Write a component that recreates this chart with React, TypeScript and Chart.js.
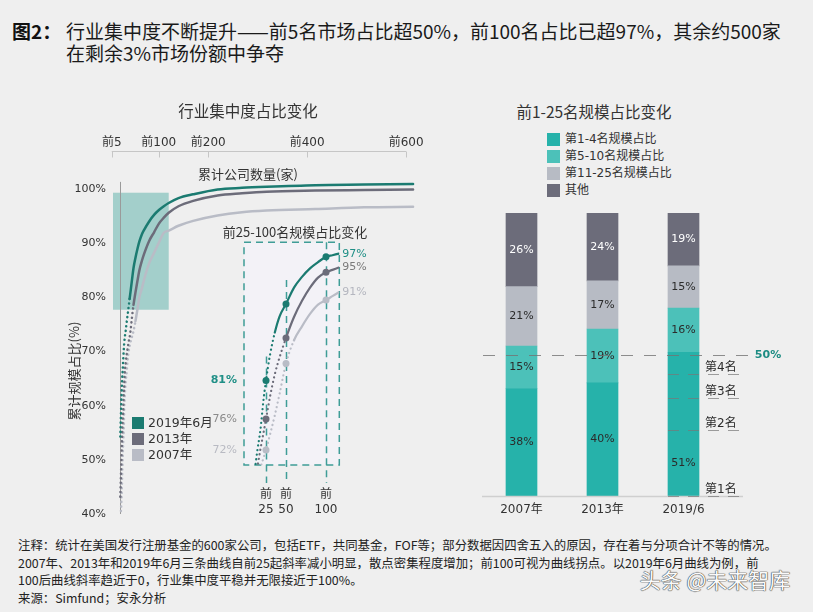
import React, { useEffect, useRef } from 'react';
import { Chart, registerables } from 'chart.js';
Chart.register(...registerables);

const FONT_LATIN = '"DejaVu Sans", "Noto Sans CJK SC", sans-serif';
const FONT_CJK = '"Noto Sans CJK SC", "Noto Sans", sans-serif';

// ---------- main curve chart ----------
const seriesNames = ['2019年6月', '2013年', '2007年'];
const mainRanks = [1, 2, 3, 4, 5, 6, 7, 8, 9, 10, 12, 14, 16, 18, 20, 22, 25, 28, 32, 36, 40, 45, 50, 60, 70, 80, 90, 100, 120, 150, 200, 250, 300, 400, 500, 600];
const main2019 = [54.3, 57.5, 60.6, 63.3, 65.2, 66.8, 68.6, 70.3, 71.5, 72.5, 73.8, 75.4, 76.8, 78.2, 79.7, 81.1, 83.3, 85.4, 87.3, 88.9, 90.3, 91.6, 92.5, 94.0, 95.2, 96.1, 96.8, 97.4, 98.3, 99.0, 99.9, 100.2, 100.4, 100.7, 100.8, 100.9];
const main2013 = [43.2, 46.3, 49.2, 52.6, 55.5, 57.7, 59.3, 62.3, 63.8, 66.0, 67.8, 69.4, 70.6, 71.8, 72.6, 73.9, 76.4, 78.6, 80.9, 83.0, 85.0, 86.7, 88.1, 90.4, 92.0, 93.6, 94.7, 95.6, 96.8, 97.8, 98.8, 99.2, 99.5, 99.7, 99.8, 99.9];
const main2007 = [38.0, 40.1, 42.0, 44.4, 47.8, 50.8, 53.5, 55.8, 59.5, 61.7, 64.4, 66.3, 68.4, 70.0, 71.0, 71.8, 72.8, 73.8, 75.6, 77.8, 80.0, 81.6, 83.4, 86.3, 88.2, 90.1, 91.9, 92.3, 93.2, 94.1, 95.1, 95.7, 96.0, 96.3, 96.6, 96.7];
const topTickValues = [5, 100, 200, 400, 600];
const yTickValues = [40, 50, 60, 70, 80, 90, 100];
const highlightRanks = [-14, 100];
const highlightShares = [77.7, 99.3];

// ---------- inset ----------
const insetRanks = [12, 14, 18, 22, 25, 30, 36, 42, 50, 60, 70, 80, 90, 100, 108, 116];
const inset2019 = [70.2, 71.8, 74.6, 78.6, 81, 84.3, 87.2, 89.3, 90.9, 93.0, 94.4, 95.5, 96.3, 97, 97.2, 97.4];
const inset2013 = [68.5, 69.6, 72.1, 74.3, 76, 78.9, 81.8, 84.0, 86.5, 89.2, 91.3, 93.0, 94.3, 95, 95.3, 95.6];
const inset2007 = [66, 67, 69.6, 71.0, 72, 74.0, 76.5, 79.3, 83.2, 86.2, 88.0, 89.6, 90.8, 91.4, 91.9, 92.4];
const insetMarkRanks = [25, 50, 100];

// ---------- bars ----------
const barCategories = ['2007年', '2013年', '2019/6'];
const barSeriesNames = ['第1-4名规模占比', '第5-10名规模占比', '第11-25名规模占比', '其他'];
const top1to4 = [38, 40, 50.8];
const top5to10 = [15, 19, 15.6];
const top11to25 = [21, 17, 14.9];
const others = [26, 24, 18.7];
const rankShares2019 = [23.3, 11.3, 8.5, 7.7];
const rankLabels = ['第1名', '第2名', '第3名', '第4名'];
const threshold = 50;

// ---------- texts ----------
const titleLead = '图2：';
const titleLine1 = '行业集中度不断提升——前5名市场占比超50%，前100名占比已超97%，其余约500家';
const titleLine2 = '在剩余3%市场份额中争夺';
const leftTitle = '行业集中度占比变化';
const topAxisTitle = '累计公司数量(家)';
const yAxisTitle = '累计规模占比(%)';
const insetTitle = '前25-100名规模占比变化';
const rightTitle = '前1-25名规模占比变化';
const notes = [
  '注释：统计在美国发行注册基金的600家公司，包括ETF，共同基金，FOF等；部分数据因四舍五入的原因，存在着与分项合计不等的情况。',
  '2007年、2013年和2019年6月三条曲线自前25起斜率减小明显，散点密集程度增加；前100可视为曲线拐点。以2019年6月曲线为例，前',
  '100后曲线斜率趋近于0，行业集中度平稳并无限接近于100%。',
  '来源：Simfund；安永分析',
];
const watermark = '头条 @未来智库';

const lineColors = ['#1b7b71', '#6c6c7a', '#b9bcc6'];
const barColors = ['#26b2aa', '#4cc1b9', '#b7bbc4', '#6c6c7a'];

const pts = (ranks: number[], vals: number[]) => ranks.map((r, i) => ({ x: r, y: vals[i] }));

function curveDataset(label: string, data: any[], color: string, dotEnd: number, width: number, marks?: number[]) {
  return {
    label,
    data,
    borderColor: color,
    backgroundColor: color,
    borderWidth: width,
    borderCapStyle: 'round',
    cubicInterpolationMode: 'monotone',
    fill: false,
    pointRadius: (ctx: any) => (marks && ctx.raw && marks.includes(ctx.raw.x) ? 3.5 : 0),
    pointBackgroundColor: color,
    pointBorderWidth: 0,
    segment: {
      borderDash: (ctx: any) => (ctx.p1.parsed.x <= dotEnd ? [0.1, 4.5] : undefined),
    },
    xAxisID: 'x',
    yAxisID: 'y',
  };
}

const mainDecor = {
  id: 'mainDecor',
  beforeDatasetsDraw(chart: any) {
    const { ctx, chartArea: a, scales } = chart;
    const x = scales.x, y = scales.y, x2 = scales.x2;
    ctx.save();
    const hx0 = x.getPixelForValue(highlightRanks[0]);
    const hx1 = x.getPixelForValue(highlightRanks[1]);
    const hy0 = y.getPixelForValue(highlightShares[1]);
    const hy1 = y.getPixelForValue(highlightShares[0]);
    ctx.fillStyle = '#a3cfcb';
    ctx.fillRect(hx0, hy0, hx1 - hx0, hy1 - hy0);
    ctx.strokeStyle = '#9a9a9a';
    ctx.lineWidth = 1;
    const ax = Math.round(x.getPixelForValue(0)) + 0.5;
    ctx.beginPath();
    ctx.moveTo(ax, y.getPixelForValue(101.3));
    ctx.lineTo(ax, a.bottom);
    ctx.stroke();
    const ty = Math.round(a.top) + 0.5;
    ctx.strokeStyle = '#c6c6c6';
    ctx.beginPath();
    ctx.moveTo(x2.getPixelForValue(topTickValues[0]), ty);
    ctx.lineTo(x2.getPixelForValue(topTickValues[topTickValues.length - 1]), ty);
    topTickValues.forEach((v) => {
      const px = Math.round(x2.getPixelForValue(v)) + 0.5;
      ctx.moveTo(px, ty);
      ctx.lineTo(px, ty + 6);
    });
    ctx.stroke();
    ctx.restore();
  },
};

const insetSeries = [inset2019, inset2013, inset2007];
const insetDecor = {
  id: 'insetDecor',
  beforeDatasetsDraw(chart: any) {
    const { ctx, chartArea: a, scales } = chart;
    const x = scales.x, y = scales.y;
    ctx.save();
    ctx.fillStyle = '#f3f2f7';
    ctx.fillRect(a.left, a.top, a.right - a.left, a.bottom - a.top);
    ctx.strokeStyle = '#3f9d97';
    ctx.lineWidth = 1.5;
    ctx.setLineDash([7, 5]);
    ctx.strokeRect(a.left, a.top, a.right - a.left, a.bottom - a.top);
    insetMarkRanks.forEach((r) => {
      const i = insetRanks.indexOf(r);
      const px = Math.round(x.getPixelForValue(r)) + 0.5;
      const top = Math.max(a.top, y.getPixelForValue(inset2019[i] + 3.1));
      ctx.beginPath();
      ctx.moveTo(px, top);
      ctx.lineTo(px, a.bottom + 18);
      ctx.stroke();
    });
    ctx.restore();
  },
  afterDatasetsDraw(chart: any) {
    const { ctx, chartArea: a, scales } = chart;
    const y = scales.y;
    const leftColors = ['#1f8f86', '#8a8a8a', '#b8bac2'];
    const rightColors = ['#1f8f86', '#7a7a7a', '#b4b6bf'];
    const i25 = insetRanks.indexOf(insetMarkRanks[0]);
    const i100 = insetRanks.indexOf(insetMarkRanks[2]);
    const last = insetRanks.length - 1;
    ctx.save();
    ctx.textBaseline = 'middle';
    insetSeries.forEach((s, k) => {
      ctx.font = (k === 0 ? 'bold ' : '') + '11px ' + FONT_LATIN;
      ctx.fillStyle = leftColors[k];
      ctx.textAlign = 'right';
      ctx.fillText(Math.round(s[i25]) + '%', a.left - 7, y.getPixelForValue(s[i25]));
      ctx.font = '11px ' + FONT_LATIN;
      ctx.fillStyle = rightColors[k];
      ctx.textAlign = 'left';
      ctx.fillText(Math.round(s[i100]) + '%', a.right + 3, y.getPixelForValue(s[last]));
    });
    ctx.restore();
  },
};

const barSets = [top1to4, top5to10, top11to25, others];
const barDecor = {
  id: 'barDecor',
  afterDatasetsDraw(chart: any) {
    const { ctx, chartArea: a, scales } = chart;
    const y = scales.y;
    ctx.save();
    ctx.font = '11px ' + FONT_LATIN;
    ctx.textAlign = 'center';
    ctx.textBaseline = 'middle';
    barSets.forEach((arr, i) => {
      const meta = chart.getDatasetMeta(i);
      meta.data.forEach((bar: any, j: number) => {
        let cy = (bar.y + bar.base) / 2;
        if (i === 0 && j === barCategories.length - 1) cy = y.getPixelForValue(rankShares2019[0] / 2);
        ctx.fillStyle = i === 3 ? '#ffffff' : '#2b2b2b';
        ctx.fillText(Math.round(arr[j]) + '%', bar.x, cy);
      });
    });
    const line = (x0: number, y0: number, x1: number, y1: number) => {
      ctx.beginPath();
      ctx.moveTo(x0, y0);
      ctx.lineTo(x1, y1);
      ctx.stroke();
    };
    const by = Math.round(y.getPixelForValue(0)) + 0.5;
    ctx.strokeStyle = '#cfcfcf';
    ctx.lineWidth = 1.5;
    line(a.left + 1, by, a.right + 19, by);
    const ty = Math.round(y.getPixelForValue(threshold)) + 0.5;
    ctx.setLineDash([12, 11]);
    ctx.strokeStyle = 'rgba(115,115,115,0.8)';
    ctx.lineWidth = 1;
    line(a.left + 2, ty, a.right + 24, ty);
    ctx.setLineDash([]);
    ctx.font = 'bold 11px ' + FONT_LATIN;
    ctx.fillStyle = '#1d8c83';
    ctx.fillText(threshold + '%', a.right + 44, ty);
    const bar = chart.getDatasetMeta(0).data[barCategories.length - 1];
    const bx = bar.x - bar.width / 2;
    let cum = 0;
    ctx.font = '12px ' + FONT_LATIN;
    ctx.textAlign = 'left';
    rankShares2019.forEach((s, k) => {
      const ly = Math.round(y.getPixelForValue(cum)) + 0.5;
      ctx.setLineDash([11, 9]);
      ctx.strokeStyle = 'rgba(120,120,120,0.7)';
      line(bx, ly, a.right + 20, ly);
      ctx.fillStyle = '#2b2b2b';
      ctx.fillText(rankLabels[k], a.right - 19, ly - 7);
      cum += s;
    });
    ctx.restore();
  },
};

const T = ({ x, y, size, children, align = 'left', color = '#333', weight = 400, family = FONT_CJK }: any) => {
  const lh = Math.round(size * 1.3);
  const transform = align === 'center' ? 'translateX(-50%)' : align === 'right' ? 'translateX(-100%)' : undefined;
  return (
    <div style={{ position: 'absolute', left: x, top: y - lh / 2, fontSize: size, lineHeight: lh + 'px', color, fontWeight: weight, fontFamily: family, whiteSpace: 'nowrap', transform }}>
      {children}
    </div>
  );
};

const Swatch = ({ x, y, size, color }: any) => (
  <div style={{ position: 'absolute', left: x, top: y - size / 2, width: size, height: size, background: color }} />
);

export default function App() {
  const mainRef = useRef<HTMLCanvasElement>(null);
  const insetRef = useRef<HTMLCanvasElement>(null);
  const barRef = useRef<HTMLCanvasElement>(null);

  useEffect(() => {
    Chart.defaults.font.family = FONT_LATIN;
    const common: any = {
      responsive: false,
      animation: false,
      events: [],
      plugins: { legend: { display: false }, tooltip: { enabled: false } },
    };

    const main = new Chart(mainRef.current as any, {
      type: 'line',
      data: {
        datasets: [
          curveDataset(seriesNames[0], pts(mainRanks, main2019), lineColors[0], 20, 2.5),
          curveDataset(seriesNames[1], pts(mainRanks, main2013), lineColors[1], 28, 2.5),
          curveDataset(seriesNames[2], pts(mainRanks, main2007), lineColors[2], 32, 2.5),
        ] as any,
      },
      options: {
        ...common,
        layout: { padding: { left: 0, right: 24, top: 115, bottom: 16 } },
        scales: {
          x: { type: 'linear', min: -28.3, max: 606, display: false },
          x2: {
            type: 'linear',
            axis: 'x',
            position: 'top',
            min: -6.6,
            max: 620,
            afterBuildTicks: (s: any) => { s.ticks = topTickValues.map((v) => ({ value: v })); },
            afterFit: (s: any) => { s.height = 36; },
            ticks: { callback: (v: any) => '前' + v, font: { size: 12 }, color: '#333', padding: 1, maxRotation: 0, autoSkip: false },
            grid: { display: false, drawTicks: false },
            border: { display: false },
          },
          y: {
            type: 'linear',
            min: 40,
            max: 107,
            afterBuildTicks: (s: any) => { s.ticks = yTickValues.map((v) => ({ value: v })); },
            afterFit: (s: any) => { s.width = 106; },
            ticks: { callback: (v: any) => v + '%', font: { size: 11 }, color: '#333', padding: 0 },
            grid: { display: false, drawTicks: false },
            border: { display: false },
          },
        },
      } as any,
      plugins: [mainDecor],
    });

    const inset = new Chart(insetRef.current as any, {
      type: 'line',
      data: {
        datasets: [
          curveDataset(seriesNames[0], pts(insetRanks, inset2019), lineColors[0], 40, 2.2, insetMarkRanks),
          curveDataset(seriesNames[1], pts(insetRanks, inset2013), lineColors[1], 50, 2.2, insetMarkRanks),
          curveDataset(seriesNames[2], pts(insetRanks, inset2007), lineColors[2], 60, 2.2, insetMarkRanks),
        ] as any,
      },
      options: {
        ...common,
        layout: { padding: { left: 44, right: 40.7, top: 17.3, bottom: 0 } },
        scales: {
          x: {
            type: 'linear',
            min: -2.5,
            max: 116.6,
            afterBuildTicks: (s: any) => { s.ticks = insetMarkRanks.map((v) => ({ value: v })); },
            afterFit: (s: any) => { s.height = 60; },
            ticks: { callback: (v: any) => ['前', String(v)], font: { size: 12 }, color: '#333', padding: 23, maxRotation: 0, autoSkip: false },
            grid: { display: false, drawTicks: false },
            border: { display: false },
          },
          y: { type: 'linear', min: 70.06, max: 98.87, display: false },
        },
      } as any,
      plugins: [insetDecor],
    });

    const bars = new Chart(barRef.current as any, {
      type: 'bar',
      data: {
        labels: barCategories,
        datasets: barSets.map((arr, i) => ({
          label: barSeriesNames[i],
          data: arr,
          backgroundColor: barColors[i],
          borderWidth: 0,
          barThickness: 31,
        })),
      },
      options: {
        ...common,
        layout: { padding: { left: 11, right: 89, top: 13, bottom: 0 } },
        scales: {
          x: {
            stacked: true,
            afterFit: (s: any) => { s.height = 34; },
            ticks: { font: { size: 12 }, color: '#333', padding: 7 },
            grid: { display: false, drawTicks: false },
            border: { display: false },
          },
          y: { stacked: true, min: 0, max: 100, display: false },
        },
      } as any,
      plugins: [barDecor],
    });

    return () => {
      main.destroy();
      inset.destroy();
      bars.destroy();
    };
  }, []);

  return (
    <div style={{ position: 'absolute', left: 0, top: 0, width: 813, height: 612, background: '#efefef', overflow: 'hidden', fontFamily: FONT_CJK }}>
      <T x={12} y={30} size={19} weight={700} color="#111">{titleLead}</T>
      <T x={66} y={30} size={19} color="#1a1a1a">{titleLine1}</T>
      <T x={66} y={52} size={19} color="#1a1a1a">{titleLine2}</T>

      <canvas ref={mainRef} width={440} height={530} style={{ position: 'absolute', left: 0, top: 0 }} />
      <canvas ref={insetRef} width={180} height={300} style={{ position: 'absolute', left: 200, top: 225 }} />
      <canvas ref={barRef} width={343} height={330} style={{ position: 'absolute', left: 470, top: 200 }} />

      <T x={248} y={110} size={15.5} align="center" color="#333">{leftTitle}</T>
      <T x={248} y={173} size={13} align="center" color="#333">{topAxisTitle}</T>
      <div style={{ position: 'absolute', left: 73, top: 371, transform: 'translate(-50%,-50%) rotate(-90deg)', fontSize: 13, color: '#333', whiteSpace: 'nowrap', fontFamily: FONT_CJK }}>{yAxisTitle}</div>
      <T x={295} y={231} size={13} align="center" color="#333">{insetTitle}</T>

      {seriesNames.map((n, i) => (
        <React.Fragment key={n}>
          <Swatch x={131.5} y={423 + i * 16} size={12} color={lineColors[i]} />
          <T x={148} y={423 + i * 16} size={12.5} color="#333" family={FONT_LATIN}>{n}</T>
        </React.Fragment>
      ))}

      <T x={594} y={111} size={15.5} align="center" color="#333">{rightTitle}</T>
      {barSeriesNames.map((n, i) => (
        <React.Fragment key={n}>
          <Swatch x={547} y={139 + i * 17} size={13} color={barColors[i]} />
          <T x={565} y={139 + i * 17} size={12} color="#333" family={FONT_LATIN}>{n}</T>
        </React.Fragment>
      ))}

      {notes.map((n, i) => (
        <T key={i} x={18} y={545 + i * 17.5} size={12.4} color="#222">{n}</T>
      ))}
      <T x={715} y={579} size={21} align="center" color="#fafafa" family={FONT_CJK}>
        <span style={{ textShadow: '0 0 1px #444, 0 0 1px #444, 0 0 1px #444' }}>{watermark}</span>
      </T>
    </div>
  );
}
